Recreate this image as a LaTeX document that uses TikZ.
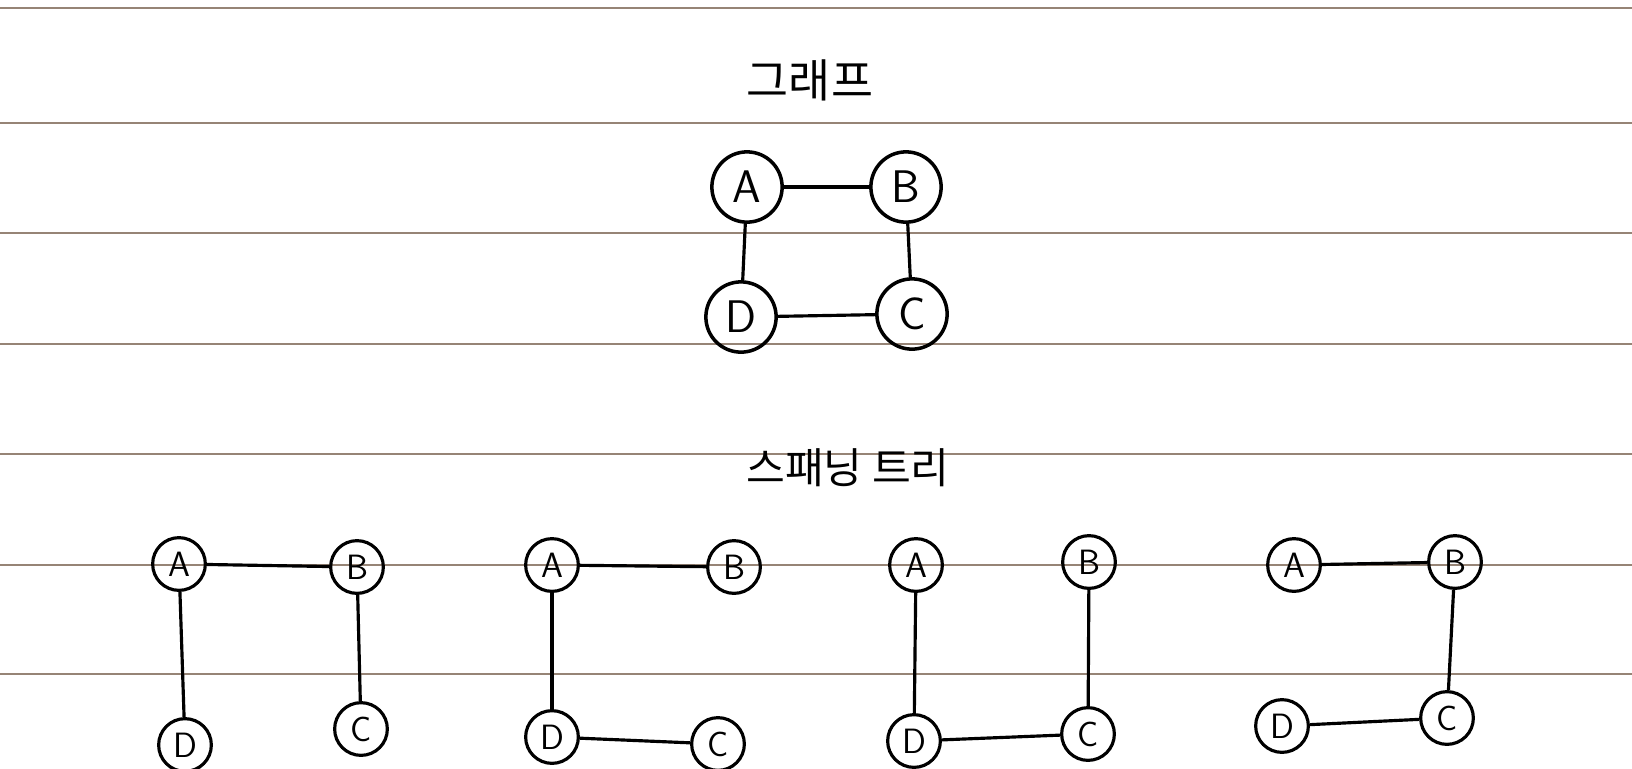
\documentclass[tikz,border=0pt]{standalone}
\usepackage{fontspec}
\newfontfamily\hangul{Noto Sans CJK KR}
\definecolor{ruleColor}{RGB}{150,132,118}
\begin{document}
\begin{tikzpicture}
[x=0.02cm,y=-0.02cm,
  nodeBig/.style={shape=circle,draw,line width=2pt,inner sep=0pt,minimum size=40pt,
    font=\sffamily\fontsize{26}{26}\selectfont},%
  nodeSmall/.style={shape=circle,draw,line width=1.8pt,inner sep=0pt,minimum size=30pt,
    font=\sffamily\fontsize{20}{20}\selectfont},%
  lineDecorate/.style={-,line width=1.8pt},
  ruleDecorate/.style={draw=ruleColor,line width=0.7pt},
  titleDecorate/.style={font=\hangul\fontsize{26}{26}\selectfont}]
\useasboundingbox[fill=white] (0,0) rectangle (1632,768);
%% ruled paper
\foreach \y in {8,123,233,344,454,565,674}
{
  \draw[ruleDecorate] (0,\y) -- (1632,\y);
}
%% titles
\node (title1) at (810,80) [titleDecorate] {그래프};
\node (title2) at (848,468) [titleDecorate,font=\hangul\fontsize{24}{24}\selectfont] {스패닝 트리};
%% graph
\foreach \nodename/\lbl/\x/\y in {
  gA/A/747/187, gB/B/906/187, gC/C/912/314, gD/D/741/317}
{
  \node (\nodename) at (\x,\y) [nodeBig] {\lbl};
}
%% spanning trees
\foreach \t/\ax/\ay/\bx/\by/\cx/\cy/\dx/\dy in {
  1/179/564/357/567/361/729/185/745,
  2/552/565/734/567/718/744/552/737,
  3/916/565/1089/562/1088/734/914/741,
  4/1294/565/1455/562/1447/718/1282/726}
{
  \node (t\t A) at (\ax,\ay) [nodeSmall] {A};
  \node (t\t B) at (\bx,\by) [nodeSmall] {B};
  \node (t\t C) at (\cx,\cy) [nodeSmall] {C};
  \node (t\t D) at (\dx,\dy) [nodeSmall] {D};
}
%% edges
\path
\foreach \startnode/\endnode in {
  gA/gB, gB/gC, gD/gC, gA/gD,
  t1A/t1B, t1A/t1D, t1B/t1C,
  t2A/t2B, t2A/t2D, t2D/t2C,
  t3A/t3D, t3B/t3C, t3D/t3C,
  t4A/t4B, t4B/t4C, t4D/t4C}
{
  (\startnode) edge[lineDecorate] (\endnode)
};
\end{tikzpicture}
\end{document}
